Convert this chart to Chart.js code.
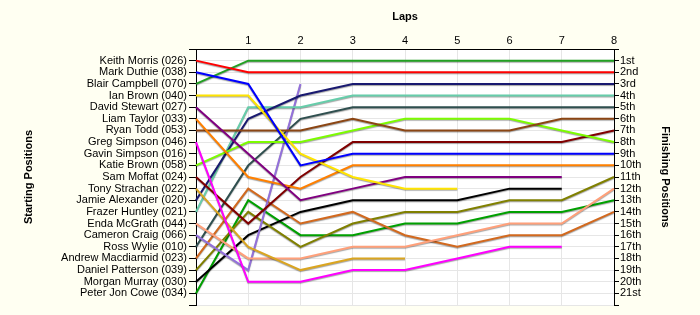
<!DOCTYPE html>
<html>
<head>
<meta charset="utf-8">
<script src="https://cdn.jsdelivr.net/npm/chart.js@4.4.1/dist/chart.umd.min.js"></script>
<style>
    html, body { margin: 0; padding: 0; background: #fffff2; }
    #wrap { width: 700px; height: 315px; }
</style>
</head>
<body>
<div id="wrap"><canvas id="lapChart" width="700" height="315"></canvas></div>
<script>
const lapLabels = ['', '1', '2', '3', '4', '5', '6', '7', '8'];

const startNames = [
    'Keith Morris (026)', 'Mark Duthie (038)', 'Blair Campbell (070)', 'Ian Brown (040)',
    'David Stewart (027)', 'Liam Taylor (033)', 'Ryan Todd (053)', 'Greg Simpson (046)',
    'Gavin Simpson (016)', 'Katie Brown (058)', 'Sam Moffat (024)', 'Tony Strachan (022)',
    'Jamie Alexander (020)', 'Frazer Huntley (021)', 'Enda McGrath (044)', 'Cameron Craig (066)',
    'Ross Wylie (010)', 'Andrew Macdiarmid (023)', 'Daniel Patterson (039)', 'Morgan Murray (030)',
    'Peter Jon Cowe (034)'
];

const finishLabels = [
    '1st', '2nd', '3rd', '4th', '5th', '6th', '7th', '8th', '9th', '10th', '11th',
    '12th', '13th', '14th', '15th', '16th', '17th', '18th', '19th', '20th', '21st'
];

// position of each driver after every lap (lap 0 = grid)
const keithMorris      = [1, 2, 2, 2, 2, 2, 2, 2, 2];
const markDuthie       = [2, 3, 10, 9, 9, 9, 9, 9, 9];
const blairCampbell    = [3, 1, 1, 1, 1, 1, 1, 1, 1];
const ianBrown         = [4, 4, 9, 11, 12, 12, null, null, null];
const davidStewart     = [5, 9, 13, 12, 11, 11, 11, 11, null];
const liamTaylor       = [6, 11, 12, 10, 10, 10, 10, 10, 10];
const ryanTodd         = [7, 7, 7, 6, 7, 7, 7, 6, 6];
const gregSimpson      = [8, 20, 20, 19, 19, 18, 17, 17, null];
const gavinSimpson     = [9, null, null, null, null, null, null, null, null];
const katieBrown       = [10, 8, 8, 7, 6, 6, 6, 7, 8];
const samMoffat        = [11, 15, 11, 8, 8, 8, 8, 8, 7];
const tonyStrachan     = [12, 17, 19, 18, 18, null, null, null, null];
const jamieAlexander   = [13, 6, 4, 3, 3, 3, 3, 3, 3];
const frazerHuntley    = [14, 5, 5, 4, 4, 4, 4, 4, 4];
const endaMcGrath      = [15, 18, 18, 17, 17, 16, 15, 15, 12];
const cameronCraig     = [16, 19, 3, null, null, null, null, null, null];
const rossWylie        = [17, 10, 6, 5, 5, 5, 5, 5, 5];
const andrewMacdiarmid = [18, 12, 15, 14, 16, 17, 16, 16, 14];
const danielPatterson  = [19, 14, 17, 15, 14, 14, 13, 13, 11];
const morganMurray     = [20, 16, 14, 13, 13, 13, 12, 12, null];
const peterJonCowe     = [21, 13, 16, 16, 15, 15, 14, 14, 13];

const driverLaps = [
    keithMorris, markDuthie, blairCampbell, ianBrown, davidStewart, liamTaylor, ryanTodd,
    gregSimpson, gavinSimpson, katieBrown, samMoffat, tonyStrachan, jamieAlexander,
    frazerHuntley, endaMcGrath, cameronCraig, rossWylie, andrewMacdiarmid, danielPatterson,
    morganMurray, peterJonCowe
];

const lineColors = [
    '#ff0000', '#0000ff', '#22a022', '#ffe400', '#800080', '#ff8000', '#8b4513',
    '#ff00ff', '#808080', '#7cfc00', '#800000', '#daa520', '#191970', '#66cdaa',
    '#ffa07a', '#9370db', '#2f4f4f', '#d2691e', '#808000', '#000000', '#00a000'
];

const plotBackground = {
    id: 'plotBackground',
    beforeDraw(chart) {
        const { ctx, chartArea } = chart;
        ctx.save();
        ctx.fillStyle = '#ffffff';
        ctx.fillRect(chartArea.left, chartArea.top, chartArea.right - chartArea.left, chartArea.bottom - chartArea.top);
        ctx.restore();
    }
};

const lineShadow = {
    id: 'lineShadow',
    beforeDatasetDraw(chart) {
        const ctx = chart.ctx;
        ctx.save();
        ctx.shadowColor = 'rgba(0, 0, 0, 0.35)';
        ctx.shadowOffsetX = 0;
        ctx.shadowOffsetY = 1;
        ctx.shadowBlur = 1;
    },
    afterDatasetDraw(chart) {
        chart.ctx.restore();
    }
};

const tickFont = { family: 'Liberation Sans, Arial, sans-serif', size: 11 };
const titleFont = { family: 'Liberation Sans, Arial, sans-serif', size: 11, weight: 'bold' };

new Chart(document.getElementById('lapChart'), {
    type: 'line',
    data: {
        labels: lapLabels,
        datasets: driverLaps.map((laps, i) => ({
            label: startNames[i],
            data: laps,
            borderColor: lineColors[i],
            backgroundColor: lineColors[i],
            borderWidth: 2,
            pointRadius: 0,
            tension: 0,
            fill: false,
            spanGaps: false
        }))
    },
    options: {
        responsive: false,
        animation: false,
        devicePixelRatio: 1,
        layout: { padding: { left: 0, right: 0, top: 0, bottom: 10 } },
        plugins: {
            legend: { display: false },
            tooltip: { enabled: false }
        },
        scales: {
            x: {
                type: 'category',
                position: 'top',
                offset: false,
                afterFit: (scale) => { scale.height = 49; },
                grid: { color: '#e6e6e6', tickLength: 0 },
                border: { color: '#000000' },
                ticks: { font: tickFont, color: '#000000', padding: 1, maxRotation: 0 },
                title: { display: true, text: 'Laps', font: titleFont, color: '#000000', padding: { top: 10, bottom: 0 } }
            },
            y: {
                type: 'linear',
                position: 'left',
                reverse: true,
                min: 0,
                max: 22,
                afterFit: (scale) => { scale.width = 196; },
                grid: { color: '#e6e6e6', tickColor: '#000000', tickLength: 7 },
                border: { color: '#000000' },
                ticks: {
                    stepSize: 1,
                    autoSkip: false,
                    font: tickFont,
                    color: '#000000',
                    padding: 2,
                    callback: (v) => startNames[v - 1] || ''
                },
                title: { display: true, text: 'Starting Positions', font: titleFont, color: '#000000', padding: { top: 22, bottom: 0 } }
            },
            y2: {
                type: 'linear',
                position: 'right',
                reverse: true,
                min: 0,
                max: 22,
                afterFit: (scale) => { scale.width = 86; },
                grid: { drawOnChartArea: false, tickColor: '#000000', tickLength: 5 },
                border: { color: '#000000' },
                ticks: {
                    stepSize: 1,
                    autoSkip: false,
                    font: tickFont,
                    color: '#000000',
                    padding: 1,
                    callback: (v) => finishLabels[v - 1] || ''
                },
                title: { display: true, text: 'Finishing Positions', font: titleFont, color: '#000000', padding: { top: 28, bottom: 0 } }
            }
        }
    },
    plugins: [plotBackground, lineShadow]
});
</script>
</body>
</html>
